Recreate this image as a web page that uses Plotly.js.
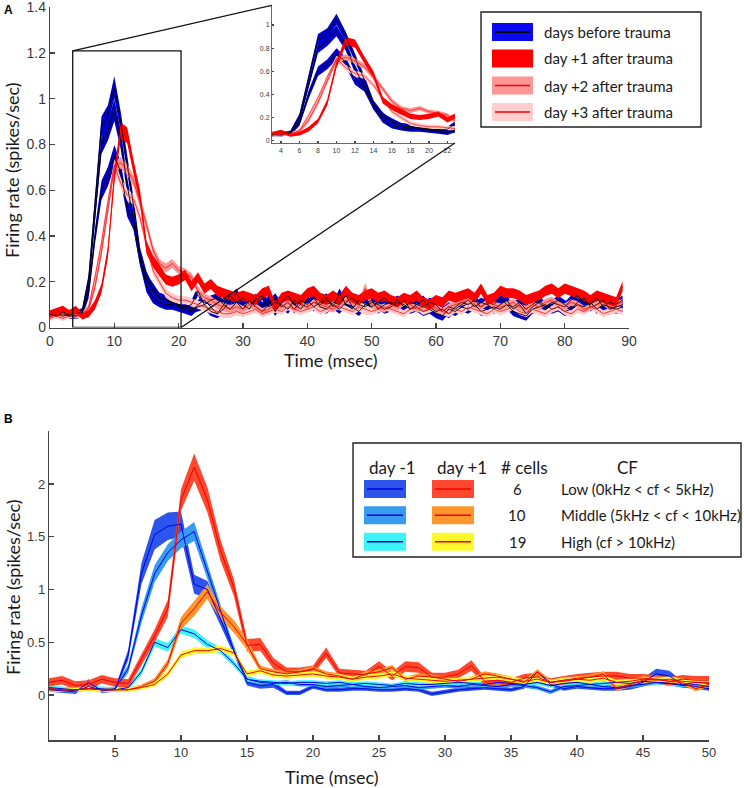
<!DOCTYPE html>
<html><head><meta charset="utf-8">
<script src="https://cdn.plot.ly/plotly-3.0.1.min.js"></script>
<style>html,body{margin:0;padding:0;background:#fff}#chart{width:744px;height:788px}</style>
</head><body><div id="chart"></div>
<script>
// ---------------- Panel A data (time in ms, firing rate spikes/sec) ----------------
const tA = [0,1,2,3,4,5,6,7,8,9,10,11,12,13,14,15,16,17,18,19,20,21,22,23,24,25,26,27,28,29,
 30,31,32,33,34,35,36,37,38,39,40,41,42,43,44,45,46,47,48,49,50,51,52,53,54,55,56,57,58,59,
 60,61,62,63,64,65,66,67,68,69,70,71,72,73,74,75,76,77,78,79,80,81,82,83,84,85,86,87,88,89];
const blueA1 = [0.06,0.05,0.07,0.05,0.06,0.07,0.21,0.55,0.88,0.93,
 1.05,0.90,0.72,0.53,0.32,0.22,0.16,0.13,0.12,0.11,
 0.10,0.09,0.10,0.16,0.10,0.07,0.06,0.08,0.12,0.15,
 0.10,0.08,0.13,0.09,0.12,0.07,0.11,0.14,0.10,0.08,
 0.12,0.09,0.11,0.13,0.09,0.15,0.10,0.08,0.12,0.10,
 0.09,0.11,0.13,0.10,0.12,0.09,0.11,0.10,0.12,0.09,
 0.07,0.08,0.06,0.09,0.11,0.10,0.12,0.09,0.11,0.10,
 0.13,0.10,0.09,0.11,0.08,0.10,0.12,0.09,0.11,0.10,
 0.09,0.12,0.14,0.11,0.10,0.13,0.09,0.11,0.10,0.12];
const blueA2 = [0.05,0.06,0.05,0.06,0.05,0.06,0.18,0.50,0.80,0.86,
 0.95,0.82,0.62,0.47,0.30,0.18,0.13,0.11,0.10,0.10,
 0.09,0.08,0.07,0.10,0.12,0.09,0.06,0.10,0.14,0.11,
 0.08,0.12,0.09,0.07,0.10,0.13,0.09,0.11,0.08,0.12,
 0.10,0.13,0.09,0.08,0.11,0.10,0.14,0.09,0.07,0.10,
 0.12,0.08,0.10,0.11,0.09,0.12,0.08,0.10,0.09,0.11,
 0.10,0.07,0.09,0.08,0.10,0.12,0.09,0.11,0.10,0.08,
 0.10,0.12,0.08,0.10,0.06,0.09,0.11,0.08,0.10,0.12,
 0.10,0.08,0.11,0.13,0.09,0.10,0.12,0.08,0.09,0.10];
const blueA3 = [0.06,0.05,0.06,0.05,0.05,0.06,0.15,0.40,0.60,0.66,
 0.75,0.68,0.52,0.46,0.30,0.21,0.17,0.13,0.12,0.11,
 0.10,0.09,0.08,0.09,0.10,0.12,0.13,0.10,0.08,0.11,
 0.13,0.10,0.12,0.14,0.09,0.11,0.10,0.08,0.12,0.10,
 0.09,0.11,0.10,0.12,0.10,0.08,0.11,0.13,0.10,0.09,
 0.11,0.10,0.08,0.09,0.11,0.10,0.08,0.09,0.07,0.08,
 0.06,0.05,0.08,0.07,0.09,0.08,0.10,0.07,0.08,0.09,
 0.08,0.10,0.07,0.06,0.05,0.08,0.09,0.10,0.08,0.09,
 0.07,0.08,0.10,0.09,0.11,0.08,0.10,0.09,0.08,0.09];
const redA1 = [0.06,0.07,0.08,0.06,0.08,0.05,0.06,0.10,0.17,0.33,
 0.66,0.86,0.84,0.70,0.57,0.35,0.29,0.25,0.21,0.20,
 0.21,0.23,0.18,0.22,0.17,0.19,0.16,0.15,0.14,0.13,
 0.14,0.13,0.12,0.15,0.16,0.09,0.13,0.14,0.13,0.12,
 0.15,0.16,0.13,0.12,0.14,0.12,0.16,0.13,0.12,0.14,
 0.15,0.13,0.14,0.12,0.11,0.13,0.12,0.14,0.11,0.10,
 0.12,0.11,0.14,0.13,0.14,0.15,0.13,0.17,0.12,0.13,
 0.16,0.15,0.15,0.14,0.12,0.13,0.14,0.16,0.17,0.15,
 0.17,0.16,0.15,0.14,0.12,0.14,0.13,0.12,0.11,0.18];
const pinkA2 = [0.05,0.06,0.05,0.07,0.05,0.06,0.08,0.18,0.33,0.52,
 0.70,0.72,0.69,0.64,0.55,0.45,0.34,0.28,0.26,0.28,
 0.25,0.24,0.22,0.16,0.13,0.12,0.10,0.09,0.08,0.09,
 0.08,0.10,0.09,0.07,0.08,0.10,0.09,0.11,0.08,0.10,
 0.09,0.11,0.10,0.09,0.08,0.10,0.12,0.11,0.10,0.17,
 0.10,0.09,0.08,0.10,0.09,0.11,0.10,0.08,0.09,0.10,
 0.08,0.07,0.09,0.10,0.11,0.12,0.10,0.09,0.11,0.10,
 0.09,0.10,0.11,0.09,0.08,0.10,0.09,0.11,0.12,0.10,
 0.09,0.11,0.10,0.08,0.09,0.10,0.11,0.09,0.10,0.11];
const pinkA3 = [0.04,0.05,0.04,0.05,0.06,0.05,0.09,0.22,0.37,0.55,
 0.71,0.63,0.58,0.56,0.48,0.36,0.25,0.20,0.15,0.13,
 0.12,0.12,0.11,0.10,0.09,0.08,0.07,0.06,0.06,0.07,
 0.06,0.07,0.08,0.06,0.07,0.08,0.07,0.09,0.08,0.07,
 0.08,0.09,0.07,0.08,0.10,0.09,0.08,0.07,0.09,0.08,
 0.07,0.08,0.09,0.08,0.07,0.06,0.08,0.09,0.07,0.08,
 0.09,0.07,0.06,0.08,0.07,0.09,0.08,0.07,0.06,0.08,
 0.07,0.08,0.09,0.07,0.06,0.08,0.07,0.06,0.08,0.09,
 0.07,0.06,0.08,0.07,0.09,0.08,0.06,0.07,0.08,0.07];
// standard-error half widths of the bands
const semBlueA = [0.012,0.012,0.012,0.012,0.012,0.015,0.022,0.035,0.042,0.042,
 0.048,0.042,0.036,0.034,0.03,0.026,0.024,0.022,0.022,0.022,
 0.02,0.02,0.02,0.02,0.02,0.02,0.02,0.02,0.02,0.02,
 0.02,0.02,0.02,0.02,0.02,0.02,0.02,0.02,0.02,0.02,
 0.02,0.02,0.02,0.02,0.02,0.02,0.02,0.02,0.02,0.02,
 0.02,0.02,0.02,0.02,0.02,0.02,0.02,0.02,0.02,0.02,
 0.02,0.02,0.02,0.02,0.02,0.02,0.02,0.02,0.02,0.02,
 0.02,0.02,0.02,0.02,0.02,0.02,0.02,0.02,0.02,0.02,
 0.02,0.02,0.02,0.02,0.02,0.02,0.02,0.02,0.02,0.02];
const semRedA = [0.015,0.015,0.015,0.015,0.015,0.015,0.015,0.02,0.02,0.025,
 0.03,0.035,0.035,0.03,0.03,0.028,0.025,0.025,0.022,0.022,
 0.022,0.022,0.022,0.022,0.022,0.022,0.022,0.022,0.022,0.022,
 0.022,0.022,0.022,0.022,0.022,0.022,0.022,0.022,0.022,0.022,
 0.022,0.022,0.022,0.022,0.022,0.022,0.022,0.022,0.022,0.022,
 0.022,0.022,0.022,0.022,0.022,0.022,0.022,0.022,0.022,0.022,
 0.022,0.022,0.022,0.022,0.022,0.022,0.022,0.022,0.022,0.022,
 0.022,0.022,0.022,0.022,0.022,0.022,0.022,0.022,0.022,0.022,
 0.022,0.022,0.022,0.022,0.022,0.022,0.022,0.022,0.022,0.022];
const semPinkA = [0.012,0.012,0.012,0.012,0.012,0.012,0.015,0.02,0.022,0.025,
 0.025,0.025,0.025,0.025,0.025,0.022,0.022,0.02,0.02,0.02,
 0.018,0.018,0.018,0.018,0.018,0.018,0.018,0.018,0.018,0.018,
 0.015,0.015,0.015,0.015,0.015,0.015,0.015,0.015,0.015,0.015,
 0.015,0.015,0.015,0.015,0.015,0.015,0.015,0.015,0.02,0.025,
 0.015,0.015,0.015,0.015,0.015,0.015,0.015,0.015,0.015,0.015,
 0.015,0.015,0.015,0.015,0.015,0.015,0.015,0.015,0.015,0.015,
 0.015,0.015,0.015,0.015,0.015,0.015,0.015,0.015,0.015,0.015,
 0.015,0.015,0.015,0.015,0.015,0.015,0.015,0.015,0.015,0.015];
const legendA = ["days before trauma","day +1 after trauma","day +2 after trauma","day +3 after trauma"];
const ticksAx = [0,10,20,30,40,50,60,70,80,90];
const ticksAy = [0,0.2,0.4,0.6,0.8,1,1.2,1.4];
const ticksInsetX = [4,6,8,10,12,14,16,18,20,22];
const ticksInsetY = [0,0.2,0.4,0.6,0.8,1];

// ---------------- Panel B data ----------------
const tB = [0,1,2,3,4,5,6,7,8,9,10,11,12,13,14,15,16,17,18,19,20,21,22,23,24,25,
 26,27,28,29,30,31,32,33,34,35,36,37,38,39,40,41,42,43,44,45,46,47,48,49,50];
const lowM1 = [0.05,0.04,0.03,0.12,0.04,0.05,0.38,1.15,1.52,1.60,
 1.62,1.05,1.00,0.72,0.42,0.12,0.09,0.10,0.02,0.02,
 0.08,0.05,0.05,0.06,0.06,0.05,0.05,0.06,0.05,0.01,
 0.03,0.05,0.06,0.07,0.06,0.05,0.08,0.22,0.10,0.06,
 0.08,0.07,0.06,0.06,0.08,0.12,0.20,0.18,0.10,0.08,0.06];
const midM1 = [0.06,0.05,0.04,0.08,0.05,0.06,0.25,0.75,1.15,1.35,
 1.47,1.55,1.18,0.80,0.42,0.15,0.12,0.11,0.12,0.10,
 0.10,0.08,0.09,0.10,0.08,0.07,0.08,0.09,0.07,0.08,
 0.09,0.08,0.10,0.09,0.08,0.10,0.09,0.07,0.03,0.08,
 0.09,0.10,0.08,0.07,0.09,0.10,0.12,0.11,0.09,0.10,0.08];
const hiM1 = [0.07,0.06,0.05,0.06,0.06,0.05,0.07,0.22,0.50,0.45,
 0.62,0.58,0.48,0.42,0.30,0.15,0.13,0.12,0.11,0.12,
 0.12,0.11,0.12,0.10,0.11,0.10,0.09,0.11,0.10,0.10,
 0.11,0.12,0.11,0.10,0.12,0.11,0.10,0.12,0.09,0.11,
 0.12,0.10,0.11,0.12,0.11,0.13,0.12,0.11,0.10,0.12,0.11];
const lowP1 = [0.12,0.14,0.09,0.10,0.15,0.12,0.11,0.33,0.56,0.82,
 1.85,2.16,1.85,1.37,1.02,0.47,0.48,0.30,0.22,0.22,
 0.24,0.40,0.21,0.20,0.19,0.27,0.18,0.27,0.26,0.17,
 0.17,0.20,0.28,0.13,0.14,0.12,0.16,0.17,0.12,0.14,
 0.16,0.17,0.18,0.18,0.16,0.16,0.15,0.13,0.15,0.14,0.14];
const midP1 = [0.06,0.05,0.05,0.06,0.05,0.05,0.05,0.08,0.13,0.30,
 0.68,0.82,0.98,0.78,0.65,0.48,0.25,0.22,0.20,0.22,
 0.25,0.20,0.18,0.15,0.20,0.22,0.26,0.15,0.18,0.17,
 0.15,0.13,0.15,0.20,0.18,0.15,0.12,0.22,0.12,0.13,
 0.15,0.17,0.20,0.06,0.10,0.14,0.15,0.13,0.12,0.06,0.10];
const hiP1 = [0.05,0.05,0.05,0.06,0.05,0.05,0.05,0.07,0.10,0.20,
 0.38,0.42,0.42,0.44,0.40,0.20,0.23,0.19,0.18,0.19,
 0.20,0.18,0.17,0.15,0.17,0.18,0.20,0.16,0.15,0.14,
 0.13,0.14,0.15,0.16,0.17,0.15,0.13,0.15,0.12,0.14,
 0.15,0.14,0.16,0.12,0.13,0.15,0.14,0.15,0.13,0.12,0.12];
const semLowM1 = [0.02,0.02,0.02,0.03,0.02,0.02,0.05,0.10,0.14,0.13,
 0.12,0.09,0.08,0.06,0.04,0.03,0.03,0.03,0.02,0.02,
 0.02,0.02,0.02,0.02,0.02,0.02,0.02,0.02,0.02,0.02,
 0.02,0.02,0.02,0.02,0.02,0.02,0.02,0.01,0.02,0.02,
 0.02,0.02,0.02,0.02,0.03,0.04,0.05,0.05,0.03,0.02,0.02];
const semMidM1 = [0.02,0.02,0.02,0.02,0.02,0.02,0.04,0.07,0.08,0.08,
 0.08,0.09,0.07,0.06,0.04,0.03,0.02,0.02,0.02,0.02,
 0.02,0.02,0.02,0.02,0.02,0.02,0.02,0.02,0.02,0.02,
 0.02,0.02,0.02,0.02,0.02,0.02,0.02,0.02,0.02,0.02,
 0.02,0.02,0.02,0.02,0.02,0.02,0.02,0.02,0.02,0.02,0.02];
const semHiM1 = [0.02,0.02,0.02,0.02,0.02,0.02,0.02,0.03,0.04,0.04,
 0.04,0.04,0.04,0.03,0.03,0.02,0.02,0.02,0.02,0.02,
 0.02,0.02,0.02,0.02,0.02,0.02,0.02,0.02,0.02,0.02,
 0.02,0.02,0.02,0.02,0.02,0.02,0.02,0.02,0.02,0.02,
 0.02,0.02,0.02,0.02,0.02,0.02,0.02,0.02,0.02,0.02,0.02];
const semLowP1 = [0.04,0.04,0.04,0.04,0.04,0.04,0.04,0.05,0.06,0.08,
 0.10,0.13,0.12,0.10,0.08,0.06,0.06,0.05,0.04,0.04,
 0.04,0.05,0.04,0.04,0.04,0.05,0.04,0.05,0.05,0.04,
 0.04,0.04,0.05,0.04,0.04,0.04,0.04,0.04,0.04,0.04,
 0.04,0.04,0.04,0.04,0.04,0.04,0.04,0.04,0.04,0.04,0.04];
const semMidP1 = [0.02,0.02,0.02,0.02,0.02,0.02,0.02,0.02,0.03,0.04,
 0.06,0.07,0.07,0.06,0.06,0.05,0.03,0.025,0.025,0.025,
 0.025,0.025,0.025,0.025,0.025,0.025,0.025,0.025,0.025,0.025,
 0.025,0.025,0.025,0.025,0.025,0.025,0.025,0.025,0.025,0.025,
 0.025,0.025,0.025,0.025,0.025,0.025,0.025,0.025,0.025,0.025,0.025];
const semHiP1 = [0.02,0.02,0.02,0.02,0.02,0.02,0.02,0.02,0.02,0.03,
 0.03,0.03,0.03,0.03,0.03,0.03,0.025,0.025,0.025,0.025,
 0.025,0.025,0.025,0.025,0.025,0.025,0.025,0.025,0.025,0.025,
 0.025,0.025,0.025,0.025,0.025,0.025,0.025,0.025,0.025,0.025,
 0.025,0.025,0.025,0.025,0.025,0.025,0.025,0.025,0.025,0.025,0.025];
const legendBHeader = ["day -1","day +1","# cells","CF"];
const legendBCells = ["6","10","19"];
const legendBCF = ["Low (0kHz < cf < 5kHz)","Middle (5kHz < cf < 10kHz)","High (cf > 10kHz)"];
const ticksBx = [5,10,15,20,25,30,35,40,45,50];
const ticksBy = [0,0.5,1,1.5,2];

// ---------------- layout helpers ----------------
const W = 744, H = 788;
const px = v => v / W;           // pixel x -> paper
const py = v => 1 - v / H;       // pixel y -> paper
const TF = "Liberation Sans, Arial, sans-serif";
const LF = "Lato, 'Open Sans', sans-serif";

// axis pixel boxes
const boxA = {x0:50, x1:629, yb:327.5, yt:7.25, xr:[0,90], yr:[0,1.4]};
const boxI = {x0:271.75, x1:454.9, yb:143.0, yt:5.3, xr:[3,22.8], yr:[-0.02,1.17]};
const boxB = {x0:49, x1:709, yb:740.4, yt:431.25, xr:[0,50], yr:[-0.43,2.5]};
function toPaper(box, x, y){
  const fx = (x - box.xr[0])/(box.xr[1]-box.xr[0]);
  const fy = (y - box.yr[0])/(box.yr[1]-box.yr[0]);
  return [px(box.x0 + fx*(box.x1-box.x0)), py(box.yb - fy*(box.yb-box.yt))];
}

function band(x, m, s, color, xa, ya){
  const up = m.map((v,i)=>v+s[i]);
  const lo = m.map((v,i)=>v-s[i]);
  return {type:'scatter', mode:'lines', x:x.concat(x.slice().reverse()),
    y:up.concat(lo.slice().reverse()), fill:'toself', fillcolor:color,
    line:{width:0, color:color}, xaxis:xa, yaxis:ya, hoverinfo:'skip', showlegend:false};
}
function ln(x, m, color, w, xa, ya){
  return {type:'scatter', mode:'lines', x:x, y:m, line:{color:color, width:w},
    xaxis:xa, yaxis:ya, hoverinfo:'skip', showlegend:false};
}

const cBlue = 'rgb(0,0,200)', cRed = 'rgb(255,0,0)', cPink2 = 'rgb(255,150,150)', cPink3 = 'rgb(255,202,202)';
const cLowM1='rgb(45,85,235)', cMidM1='rgb(55,155,240)', cHiM1='rgb(60,245,250)';
const cLowP1='rgb(255,72,45)', cMidP1='rgb(255,150,45)', cHiP1='rgb(255,248,45)';
const lineM1='rgb(0,0,225)', lineP1='rgb(240,0,0)';

const traces = [];
function panelA(xa, ya, lw){
  traces.push(band(tA, blueA1, semBlueA, cBlue, xa, ya));
  traces.push(band(tA, blueA2, semBlueA, cBlue, xa, ya));
  traces.push(band(tA, blueA3, semBlueA, cBlue, xa, ya));
  traces.push(band(tA, pinkA3, semPinkA, cPink3, xa, ya));
  traces.push(band(tA, pinkA2, semPinkA, cPink2, xa, ya));
  traces.push(band(tA, redA1, semRedA, cRed, xa, ya));
  traces.push(ln(tA, blueA1, '#000', lw, xa, ya));
  traces.push(ln(tA, blueA2, '#000', lw, xa, ya));
  traces.push(ln(tA, blueA3, '#000', lw, xa, ya));
  traces.push(ln(tA, pinkA3, 'rgb(255,30,30)', lw, xa, ya));
  traces.push(ln(tA, pinkA2, 'rgb(255,30,30)', lw, xa, ya));
  traces.push(ln(tA, redA1, cRed, lw, xa, ya));
}
panelA('x','y',0.9);
panelA('x2','y2',0.8);

traces.push(band(tB, lowM1, semLowM1, cLowM1, 'x3','y3'));
traces.push(band(tB, midM1, semMidM1, cMidM1, 'x3','y3'));
traces.push(band(tB, hiM1, semHiM1, cHiM1, 'x3','y3'));
traces.push(band(tB, lowP1, semLowP1, cLowP1, 'x3','y3'));
traces.push(band(tB, midP1, semMidP1, cMidP1, 'x3','y3'));
traces.push(band(tB, hiP1, semHiP1, cHiP1, 'x3','y3'));
[lowM1, midM1, hiM1].forEach(s => traces.push(ln(tB, s, lineM1, 1, 'x3','y3')));
[lowP1, midP1, hiP1].forEach(s => traces.push(ln(tB, s, lineP1, 1, 'x3','y3')));

function axis(box, horiz, tickvals, fontSize, ticklen, extra){
  const o = {range: horiz?box.xr:box.yr,
    domain: horiz ? [px(box.x0), px(box.x1)] : [py(box.yb), py(box.yt)],
    showline:true, linecolor:'#444', linewidth:1.2, ticks:'inside', ticklen:ticklen,
    tickcolor:'#444', tickwidth:1.1, tickvals:tickvals, showgrid:false, zeroline:false,
    ticklabeloverflow:'allow',
    tickfont:{family:TF, size:fontSize, color:'#3a3a3a'}, fixedrange:true};
  return Object.assign(o, extra||{});
}

const layout = {
  width:W, height:H, margin:{l:0,r:0,t:0,b:0}, paper_bgcolor:'#fff', plot_bgcolor:'rgba(0,0,0,0)',
  showlegend:false,
  xaxis: axis(boxA, true, ticksAx, 14, 5, {anchor:'y'}),
  yaxis: axis(boxA, false, ticksAy, 14, 5, {anchor:'x'}),
  xaxis2: axis(boxI, true, ticksInsetX, 7, 2, {anchor:'y2', linewidth:0.8, ticklabelstandoff:1}),
  yaxis2: axis(boxI, false, ticksInsetY, 7, 2, {anchor:'x2', linewidth:0.8}),
  xaxis3: axis(boxB, true, ticksBx, 13, 5, {anchor:'y3'}),
  yaxis3: axis(boxB, false, ticksBy, 13, 5, {anchor:'x3'}),
  shapes: [], annotations: []
};

// zoom rectangle and connectors in panel A
const rect = {x0:3.53, x1:20.37, y0:0, y1:1.209};
layout.shapes.push({type:'rect', xref:'x', yref:'y', x0:rect.x0, x1:rect.x1, y0:rect.y0, y1:rect.y1,
  line:{color:'#111', width:1.3}, fillcolor:'rgba(0,0,0,0)'});
const pTL = toPaper(boxA, rect.x0, rect.y1), pBR = toPaper(boxA, rect.x1, rect.y0);
const iTL = toPaper(boxI, boxI.xr[0], boxI.yr[1]), iBR = toPaper(boxI, boxI.xr[1], boxI.yr[0]);
layout.shapes.push({type:'line', xref:'paper', yref:'paper', x0:pTL[0], y0:pTL[1], x1:iTL[0], y1:iTL[1], line:{color:'#111', width:1.3}});
layout.shapes.push({type:'line', xref:'paper', yref:'paper', x0:pBR[0], y0:pBR[1], x1:iBR[0], y1:iBR[1], line:{color:'#111', width:1.3}});

// Legend A
layout.shapes.push({type:'rect', xref:'paper', yref:'paper', x0:px(481), x1:px(701), y0:py(127), y1:py(12),
  line:{color:'#222', width:1.4}, fillcolor:'#fff'});
const legAFill = ['rgb(10,10,245)', cRed, 'rgb(255,150,150)', 'rgb(255,205,205)'];
const legALine = ['#000', cRed, 'rgb(240,0,0)', 'rgb(240,0,0)'];
const legARow = [32, 58.5, 85.5, 112];
legendA.forEach((lab, i) => {
  const c = legARow[i];
  layout.shapes.push({type:'rect', xref:'paper', yref:'paper', x0:px(492), x1:px(533), y0:py(c+9), y1:py(c-9),
    line:{width:0}, fillcolor:legAFill[i]});
  layout.shapes.push({type:'line', xref:'paper', yref:'paper', x0:px(495), x1:px(530), y0:py(c), y1:py(c),
    line:{color:legALine[i], width:i===0?2:1.5}});
  layout.annotations.push({xref:'paper', yref:'paper', x:px(542), y:py(c), xanchor:'left', yanchor:'middle',
    text:lab, showarrow:false, font:{family:LF, size:15, color:'#1a1a1a'}});
});

// Legend B
layout.shapes.push({type:'rect', xref:'paper', yref:'paper', x0:px(353), x1:px(741), y0:py(557), y1:py(443),
  line:{color:'#222', width:1.4}, fillcolor:'#fff'});
const hdrX = [392, 462, 524, 627];
legendBHeader.forEach((h, i) => layout.annotations.push({xref:'paper', yref:'paper', x:px(hdrX[i]), y:py(467),
  xanchor:'center', yanchor:'middle', text:h, showarrow:false, font:{family:LF, size:17, color:'#1a1a1a'}}));
const rowB = [489, 515.3, 541.7];
const fillM1 = [cLowM1, cMidM1, cHiM1], fillP1 = [cLowP1, cMidP1, cHiP1];
const esc = s => s.replace(/</g,'&lt;').replace(/>/g,'&gt;');
rowB.forEach((c, i) => {
  [[364,406,fillM1[i],lineM1],[432,474,fillP1[i],lineP1]].forEach(sw => {
    layout.shapes.push({type:'rect', xref:'paper', yref:'paper', x0:px(sw[0]), x1:px(sw[1]), y0:py(c+9), y1:py(c-9),
      line:{width:0}, fillcolor:sw[2]});
    layout.shapes.push({type:'line', xref:'paper', yref:'paper', x0:px(sw[0]+3), x1:px(sw[1]-3), y0:py(c), y1:py(c),
      line:{color:sw[3], width:1.6}});
  });
  layout.annotations.push({xref:'paper', yref:'paper', x:px(517), y:py(c), xanchor:'center', yanchor:'middle',
    text:legendBCells[i], showarrow:false, font:{family:LF, size:15, color:'#1a1a1a'}});
  layout.annotations.push({xref:'paper', yref:'paper', x:px(559), y:py(c), xanchor:'left', yanchor:'middle',
    text:esc(legendBCF[i]), showarrow:false, font:{family:LF, size:15, color:'#1a1a1a'}});
});

// axis titles and panel letters
const titleFont = {family:LF, size:18, color:'#1a1a1a'};
layout.annotations.push({xref:'paper', yref:'paper', x:px(12), y:py(170), textangle:-90, text:'Firing rate (spikes/sec)',
  showarrow:false, xanchor:'center', yanchor:'middle', font:titleFont});
layout.annotations.push({xref:'paper', yref:'paper', x:px(331), y:py(360), text:'Time (msec)',
  showarrow:false, xanchor:'center', yanchor:'middle', font:titleFont});
layout.annotations.push({xref:'paper', yref:'paper', x:px(13), y:py(587), textangle:-90, text:'Firing rate (spikes/sec)',
  showarrow:false, xanchor:'center', yanchor:'middle', font:titleFont});
layout.annotations.push({xref:'paper', yref:'paper', x:px(332), y:py(777), text:'Time (msec)',
  showarrow:false, xanchor:'center', yanchor:'middle', font:titleFont});
layout.annotations.push({xref:'paper', yref:'paper', x:px(8), y:py(10), text:'<b>A</b>',
  showarrow:false, xanchor:'center', yanchor:'middle', font:{family:TF, size:12, color:'#000'}});
layout.annotations.push({xref:'paper', yref:'paper', x:px(8), y:py(419), text:'<b>B</b>',
  showarrow:false, xanchor:'center', yanchor:'middle', font:{family:TF, size:12, color:'#000'}});

Plotly.newPlot('chart', traces, layout, {staticPlot:true, displayModeBar:false});
</script>
</body></html>
